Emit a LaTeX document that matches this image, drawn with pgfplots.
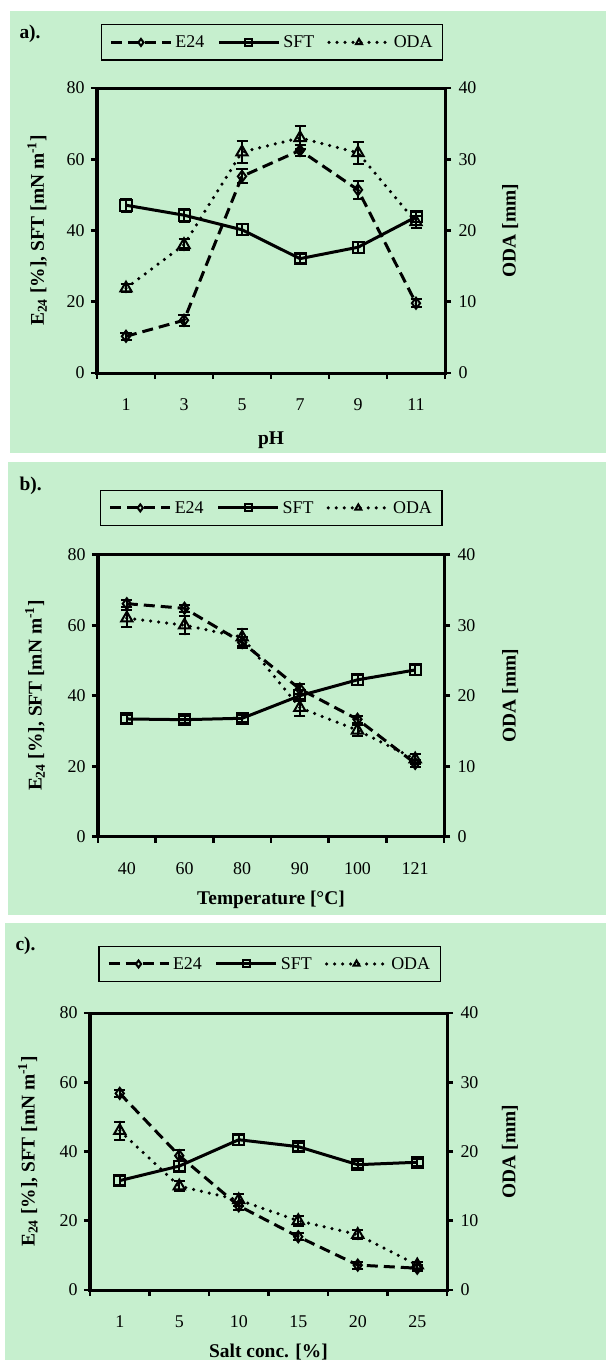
\documentclass[border=0pt]{standalone}
\usepackage{fontspec}
\setmainfont{Liberation Serif}
\usepackage{pgfplots}
\pgfplotsset{compat=1.18}
\definecolor{panelbg}{RGB}{198,239,206}

\newcommand\tickfont{\fontsize{18}{20}\selectfont}
\newcommand\labfont{\fontsize{19.5}{22}\selectfont\bfseries}

\pgfplotsset{
  common/.style={
    scale only axis,
    xmin=0.5, xmax=6.5,
    axis line style={line width=3bp},
    tick style={line width=2.8bp, black},
    tick align=outside, major tick length=6bp,
    ticklabel style={font=\tickfont},
    /pgf/number format/assume math mode=true,
  },
  leftax/.style={
    common,
    ymin=0, ymax=80, ytick={0,20,...,80},
    ytick pos=left, xtick pos=bottom,
    xtick={0.5,1.5,...,6.5}, xticklabels={},
    extra x ticks={1,2,3,4,5,6},
    extra x tick style={major tick length=0pt},
    xticklabel style={yshift=-22bp},
    yticklabel style={xshift=-3bp},
    ylabel={E\textsubscript{24} [\%], SFT [mN m\textsuperscript{-1}]},
    legend columns=3,
    legend style={draw=black, line width=1.2bp, fill=panelbg,
      font=\fontsize{18}{21}\selectfont, anchor=center,
      inner xsep=8bp, inner ysep=9bp,
      nodes={inner xsep=2bp},
      /tikz/every odd column/.append style={column sep=1bp},
      /tikz/every even column/.append style={column sep=11bp}},
    legend image code/.code={\draw[mark repeat=2,mark phase=2,##1,mark size=3.5bp]
      plot coordinates {(0bp,0bp) (30bp,0bp) (60bp,0bp)};},
  },
  rightax/.style={
    common,
    ymin=0, ymax=40, ytick={0,10,...,40},
    axis y line*=right, axis x line=none,
    yticklabel style={xshift=4bp},
    ylabel={ODA [mm]},
  },
  e24/.style={black, line width=3bp, dash pattern=on 11bp off 6bp,
    mark=diamond, mark size=5.5bp, mark options={solid, line width=2bp}},
  sft/.style={black, line width=3bp, solid,
    mark=square, mark size=5.5bp, mark options={solid, line width=2bp}},
  oda/.style={black, line width=3.5bp, line cap=round, dash pattern=on 0bp off 8bp,
    mark=triangle, mark size=6.5bp, mark options={solid, line width=2bp}},
  errs/.style={error bars/.cd, y dir=both, y explicit,
    error bar style={line width=2bp, solid},
    error mark options={rotate=90, mark size=5.5bp, line width=2bp}},
}

\begin{document}
\begin{tikzpicture}
\useasboundingbox (0,0) rectangle (606bp,-1360bp);
\fill[panelbg] (10bp,-11bp) rectangle (606bp,-453bp);
\fill[panelbg] (8bp,-462bp) rectangle (606bp,-915bp);
\fill[panelbg] (5bp,-923bp) rectangle (606bp,-1360bp);

\node[anchor=west, font=\labfont] at (16bp,-34bp) {a).};
\node[anchor=west, font=\labfont] at (16bp,-486bp) {b).};
\node[anchor=west, font=\labfont] at (12bp,-946bp) {c).};

% ---------- a) pH ----------
\begin{axis}[leftax, at={(97bp,-373bp)}, anchor=south west,
  width=348bp, height=285bp,
  extra x tick labels={1,3,5,7,9,11},
  xlabel={pH},
  every axis x label/.style={at={(axis description cs:0.5,-0.235)}, anchor=center, font=\labfont},
  every axis y label/.style={at={(axis description cs:-0.172,0.5)}, rotate=90, anchor=center, font=\labfont},
  legend style={at={(0.503,1.160)}}]
\addplot[e24, errs] coordinates {
  (1,10.3) +- (0,1.0) (2,14.8) +- (0,1.5) (3,55.2) +- (0,2.0)
  (4,62.5) +- (0,1.5) (5,51.4) +- (0,2.5) (6,19.6) +- (0,1.2)};
\addlegendentry{E24}
\addplot[sft, errs] coordinates {
  (1,47.1) +- (0,1.8) (2,44.3) +- (0,1.8) (3,40.2) +- (0,1.5)
  (4,32.1) +- (0,1.2) (5,35.3) +- (0,1.5) (6,43.8) +- (0,1.5)};
\addlegendentry{SFT}
\addlegendimage{oda}
\addlegendentry{ODA}
\end{axis}
\begin{axis}[rightax, at={(97bp,-373bp)}, anchor=south west,
  width=348bp, height=285bp,
  every axis y label/.style={at={(axis description cs:1.187,0.5)}, rotate=90, anchor=center, font=\labfont}]
\addplot[oda, errs] coordinates {
  (1,11.9) +- (0,0.6) (2,18.0) +- (0,0.8) (3,31.0) +- (0,1.5)
  (4,33.0) +- (0,1.6) (5,30.9) +- (0,1.5) (6,21.2) +- (0,0.8)};
\end{axis}

% ---------- b) temperature ----------
\begin{axis}[leftax, at={(98bp,-836.7bp)}, anchor=south west,
  width=346bp, height=282bp,
  extra x tick labels={40,60,80,90,100,121},
  xlabel={Temperature [°C]},
  every axis x label/.style={at={(axis description cs:0.5,-0.223)}, anchor=center, font=\labfont},
  every axis y label/.style={at={(axis description cs:-0.182,0.5)}, rotate=90, anchor=center, font=\labfont},
  legend style={at={(0.501,1.166)}}]
\addplot[e24, errs] coordinates {
  (1,66.1) +- (0,1.0) (2,64.8) +- (0,1.0) (3,55.1) +- (0,1.5)
  (4,41.9) +- (0,1.5) (5,33.3) +- (0,1.0) (6,20.8) +- (0,1.0)};
\addlegendentry{E24}
\addplot[sft, errs] coordinates {
  (1,33.4) +- (0,1.0) (2,33.2) +- (0,1.0) (3,33.6) +- (0,1.0)
  (4,40.0) +- (0,1.5) (5,44.5) +- (0,1.5) (6,47.3) +- (0,1.5)};
\addlegendentry{SFT}
\addlegendimage{oda}
\addlegendentry{ODA}
\end{axis}
\begin{axis}[rightax, at={(98bp,-836.7bp)}, anchor=south west,
  width=346bp, height=282bp,
  every axis y label/.style={at={(axis description cs:1.191,0.5)}, rotate=90, anchor=center, font=\labfont}]
\addplot[oda, errs] coordinates {
  (1,31.0) +- (0,1.2) (2,30.0) +- (0,1.3) (3,28.3) +- (0,1.2)
  (4,18.3) +- (0,1.2) (5,15.1) +- (0,0.8) (6,11.0) +- (0,0.7)};
\end{axis}

% ---------- c) salt ----------
\begin{axis}[leftax, at={(90bp,-1290bp)}, anchor=south west,
  width=357bp, height=277bp,
  extra x tick labels={1,5,10,15,20,25},
  xlabel={Salt conc. [\%]},
  every axis x label/.style={at={(axis description cs:0.5,-0.224)}, anchor=center, font=\labfont},
  every axis y label/.style={at={(axis description cs:-0.174,0.5)}, rotate=90, anchor=center, font=\labfont},
  legend style={at={(0.503,1.177)}}]
\addplot[e24, errs] coordinates {
  (1,56.8) +- (0,1.0) (2,38.8) +- (0,1.5) (3,24.3) +- (0,1.2)
  (4,15.4) +- (0,1.0) (5,7.2) +- (0,1.0) (6,6.3) +- (0,0.8)};
\addlegendentry{E24}
\addplot[sft, errs] coordinates {
  (1,31.6) +- (0,1.2) (2,35.8) +- (0,1.5) (3,43.4) +- (0,1.5)
  (4,41.4) +- (0,1.2) (5,36.2) +- (0,1.0) (6,36.9) +- (0,1.0)};
\addlegendentry{SFT}
\addlegendimage{oda}
\addlegendentry{ODA}
\end{axis}
\begin{axis}[rightax, at={(90bp,-1290bp)}, anchor=south west,
  width=357bp, height=277bp,
  every axis y label/.style={at={(axis description cs:1.176,0.5)}, rotate=90, anchor=center, font=\labfont}]
\addplot[oda, errs] coordinates {
  (1,23.0) +- (0,1.3) (2,15.0) +- (0,0.7) (3,13.0) +- (0,0.8)
  (4,10.0) +- (0,0.7) (5,8.0) +- (0,0.7) (6,3.6) +- (0,0.5)};
\end{axis}
\end{tikzpicture}
\end{document}
